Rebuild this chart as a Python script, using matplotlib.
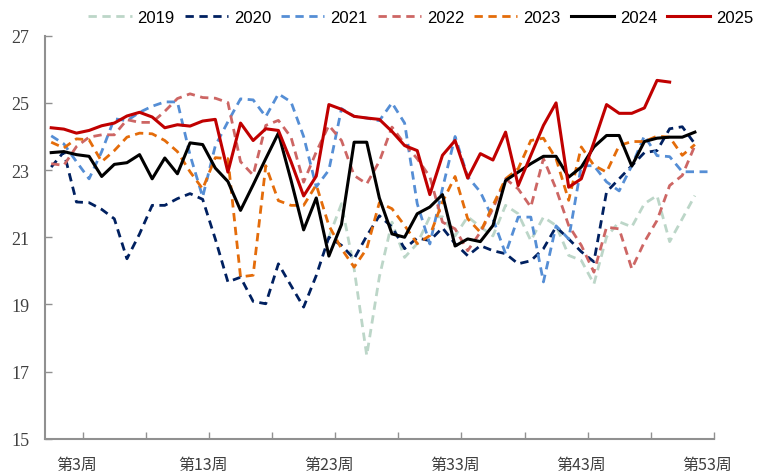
import numpy as np
from matplotlib import pyplot

nan = np.nan

weeks = list(range(1, 54))
week_labels = ['第%d周' % w for w in weeks]

# weekly values, week 1 first
y2019 = [nan]*22 + [21.00, 22.00, 20.06, 17.48, 19.82, 21.45, 20.40, 20.81, 21.61, 21.61,
                    21.04, 21.61, 21.31, 21.04, 21.95, 21.70, 20.90, 21.60, 21.35, 20.46,
                    20.31, 19.61, 21.01, 21.46, 21.31, 22.00, 22.24, 20.87, 21.55, 22.24]
y2020 = [23.09, 23.54, 22.05, 22.03, 21.83, 21.55, 20.36, 21.10, 21.95, 21.95,
         22.15, 22.30, 22.13, 20.95, 19.67, 19.81, 19.09, 19.02, 20.21, 19.56,
         18.92, 19.86, 21.00, 20.76, 20.36, 21.04, 21.64, 21.31, 20.66, 20.98,
         20.90, 21.28, 20.81, 20.45, 20.75, 20.60, 20.51, 20.21, 20.30, 20.66,
         21.31, 20.95, 20.57, 20.27, 22.35, 22.74, 23.13, 23.52, 23.58, 24.23,
         24.29, 23.78]
y2021 = [24.02, 23.78, 23.25, 22.74, 23.55, 24.53, 24.47, 24.72, 24.90, 25.03,
         25.03, 23.45, 22.20, 23.72, 24.44, 25.12, 25.09, 24.59, 25.27, 25.03,
         24.00, 22.50, 23.00, 24.83, 24.60, 24.55, 24.47, 25.00, 24.40, 22.00,
         20.80, 22.45, 24.00, 22.80, 22.35, 21.55, 20.51, 21.60, 21.60, 19.67,
         21.34, 20.95, 23.13, 23.13, 22.65, 22.38, 23.13, 24.02, 23.43, 23.40,
         22.95, 22.95, 22.95]
y2022 = [23.19, 23.14, 23.70, 23.98, 24.05, 24.05, 24.50, 24.42, 24.42, 24.75,
         25.13, 25.27, 25.16, 25.14, 25.01, 23.25, 22.85, 24.33, 24.48, 23.98,
         22.64, 23.54, 24.33, 23.88, 22.84, 22.59, 23.26, 24.28, 23.78, 23.34,
         22.80, 21.45, 21.25, 20.60, 21.15, 21.85, 22.74, 22.44, 21.90, 23.34,
         22.44, 21.35, 20.76, 19.96, 21.30, 21.25, 20.06, 20.86, 21.50, 22.54,
         22.84, 23.73]
y2023 = [23.83, 23.66, 23.93, 23.90, 23.25, 23.58, 23.98, 24.10, 24.08, 23.88,
         23.55, 22.95, 22.44, 23.37, 23.34, 19.82, 19.87, 23.13, 22.09, 21.95,
         21.95, 22.56, 21.35, 20.66, 20.11, 20.66, 22.03, 21.85, 21.35, 20.81,
         21.05, 22.05, 22.81, 21.55, 21.15, 21.95, 22.74, 23.04, 23.88, 23.95,
         23.34, 22.10, 23.69, 23.14, 22.94, 23.73, 23.85, 23.85, 24.01, 23.98,
         23.44, 23.76]
y2024 = [23.52, 23.55, 23.46, 23.41, 22.81, 23.17, 23.22, 23.46, 22.74, 23.36,
         22.89, 23.81, 23.76, 23.06, 22.66, 21.80, 22.56, 23.34, 24.10, 22.70,
         21.22, 22.17, 20.44, 21.38, 23.83, 23.83, 22.17, 21.10, 21.00, 21.70,
         21.90, 22.27, 20.74, 20.95, 20.87, 21.35, 22.69, 22.94, 23.19, 23.41,
         23.41, 22.79, 23.09, 23.69, 24.03, 24.03, 23.12, 23.85, 23.95, 23.98,
         23.98, 24.13]
y2025 = [24.26, 24.22, 24.10, 24.18, 24.32, 24.40, 24.61, 24.72, 24.58, 24.26,
         24.35, 24.31, 24.46, 24.51, 22.94, 24.40, 23.88, 24.23, 24.18, 23.25,
         22.23, 22.82, 24.95, 24.81, 24.60, 24.55, 24.51, 24.15, 23.73, 23.58,
         22.27, 23.44, 23.88, 22.76, 23.49, 23.30, 24.13, 22.54, 23.44, 24.33,
         25.00, 22.49, 22.74, 23.83, 24.95, 24.69, 24.69, 24.85, 25.67, 25.62]

series = [('2019', y2019, '#bcd6c8', 'dash'),
          ('2020', y2020, '#002060', 'dash'),
          ('2021', y2021, '#558ed5', 'dash'),
          ('2022', y2022, '#cd6664', 'dash'),
          ('2023', y2023, '#e46c0a', 'dash'),
          ('2024', y2024, '#000000', 'solid'),
          ('2025', y2025, '#c00000', 'solid')]

fig = pyplot.figure(figsize=(7.61, 4.77), dpi=100)
ax = fig.add_axes([0.059, 0.078, 0.879, 0.845])

for name, vals, col, style in series:
    x = weeks[:len(vals)]
    if style == 'dash':
        ax.plot(x, vals, color=col, lw=2.0, linestyle=(0, (3, 2)), label=name)
    else:
        ax.plot(x, vals, color=col, lw=2.2, label=name)

ax.set_xlim(0.5, 53.5)
ax.set_ylim(15, 27)
ax.set_yticks(range(15, 28, 2))

# labels every 10 weeks, tick marks every 5 weeks between categories
ax.set_xticks(weeks[2::10])
ax.set_xticklabels(week_labels[2::10], family=['Noto Sans CJK SC', 'DejaVu Sans'],
                   fontsize=11.5, color='#404040')
ax.set_xticks([w + 0.5 for w in weeks[2::5]], minor=True)
ax.tick_params(axis='x', which='major', length=0, pad=12)
ax.tick_params(axis='x', which='minor', direction='in', length=5, width=1, color='#909090')
ax.tick_params(axis='y', direction='in', length=5, width=1, color='#909090', pad=11)
for lab in ax.get_yticklabels():
    lab.set_family('Liberation Serif')
    lab.set_fontsize(13)
    lab.set_color('#404040')

for s in ['top', 'right']:
    ax.spines[s].set_visible(False)
for s in ['left', 'bottom']:
    ax.spines[s].set_color('#909090')
    ax.spines[s].set_linewidth(1.5)

fig.legend(loc='center', bbox_to_anchor=(0.553, 0.962), ncol=7, frameon=False,
           prop={'family': ['Liberation Sans Narrow', 'DejaVu Sans Condensed', 'Liberation Sans'],
                 'size': 12},
           handlelength=2.6, handletextpad=0.35, columnspacing=0.6,
           borderpad=0, borderaxespad=0)

pyplot.savefig('out.png', dpi=100)
